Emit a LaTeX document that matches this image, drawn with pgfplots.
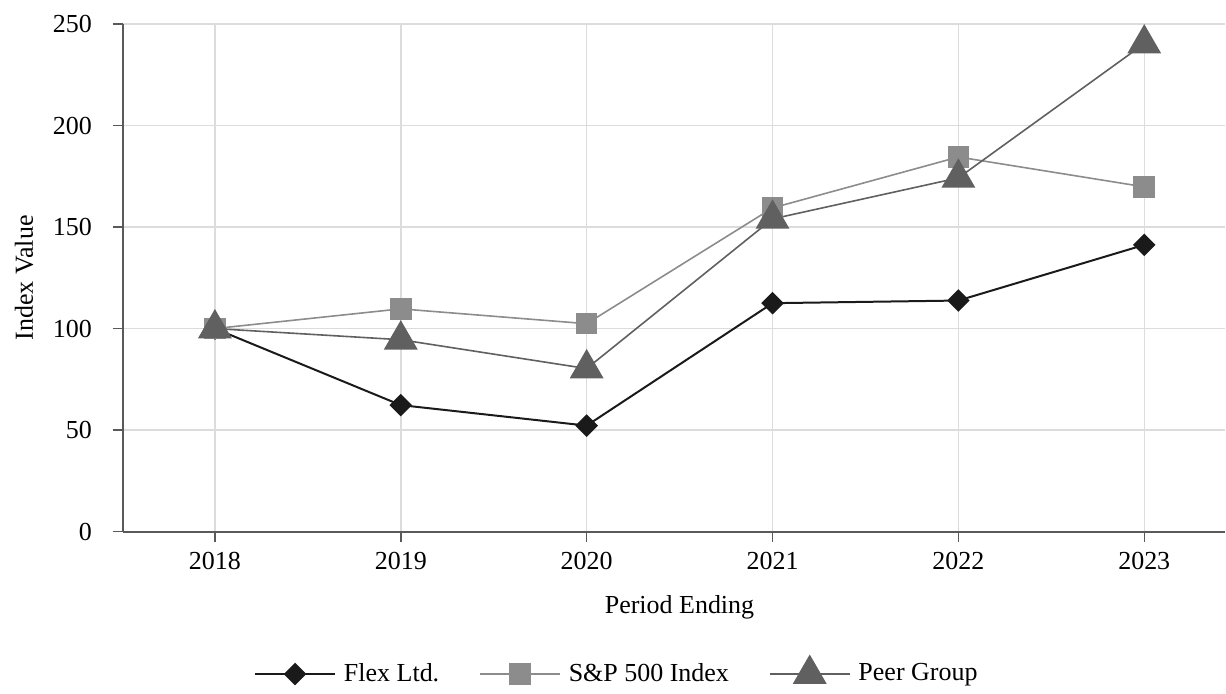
\documentclass[border=0pt]{standalone}
\usepackage{pgfplots}
\pgfplotsset{compat=1.18}
\usepackage{fontspec}
\setmainfont{Liberation Serif}
\definecolor{flexc}{HTML}{1A1A1A}
\definecolor{spc}{HTML}{8C8C8C}
\definecolor{peerc}{HTML}{606060}
\definecolor{gridc}{HTML}{DCDCDC}
\definecolor{axc}{HTML}{595959}
\begin{document}
\fontsize{13}{15.6}\selectfont
\begin{tikzpicture}
\begin{axis}[
  scale only axis,
  width=551.5pt, height=254pt,
  xmin=2017.505, xmax=2023.435,
  ymin=0, ymax=250,
  xtick={2018,2019,2020,2021,2022,2023},
  ytick={0,50,100,150,200,250},
  /pgf/number format/assume math mode=true,
  xticklabel={\pgfmathprintnumber[1000 sep={}]{\tick}},
  grid=major,
  major grid style={gridc, line width=0.75pt},
  axis x line*=bottom, axis y line*=left,
  axis line style={axc, line width=0.9pt, -},
  tick align=outside,
  major tick length=5pt,
  tick style={axc, line width=0.75pt},
  ticklabel style={font=\fontsize{13}{15.6}\selectfont},
  yticklabel style={xshift=-6pt},
  xticklabel style={yshift=-1pt},
  xlabel={Period Ending},
  ylabel={Index Value},
  every axis x label/.style={at={(axis description cs:0.505,-0.15)}, anchor=center},
  every axis y label/.style={at={(axis description cs:-0.0898,0.5)}, rotate=90, anchor=center},
  legend columns=3,
  legend style={draw=none, fill=none, at={(axis description cs:0.449,-0.2776)}, anchor=center,
    /tikz/every odd column/.append style={column sep=2pt},
    /tikz/every even column/.append style={column sep=18pt}, font=\fontsize{13}{15.6}\selectfont},
  legend image code/.code={
    \draw[#1, mark=none] (0pt,0pt) -- (40pt,0pt);
    \draw[#1, only marks] plot coordinates {(20pt,0pt)};
  },
  clip=false,
]
\addplot[flexc, line width=1pt, mark=square*, mark size=3.5pt, mark options={rotate=45, fill=flexc, draw=none}]
  coordinates {(2018,100) (2019,62.3) (2020,52.2) (2021,112.5) (2022,113.8) (2023,141.2)};
\addlegendentry{Flex Ltd.}
\addplot[spc, line width=0.8pt, mark=square*, mark size=5pt, mark options={fill=spc, draw=none}]
  coordinates {(2018,100) (2019,109.7) (2020,102.4) (2021,159.4) (2022,184.5) (2023,169.8)};
\addlegendentry{S\&P 500 Index}
\addplot[peerc, line width=0.8pt, mark=triangle*, mark size=9pt, mark options={fill=peerc, draw=none}]
  coordinates {(2018,100) (2019,94.5) (2020,80.3) (2021,154) (2022,174.2) (2023,240.3)};
\addlegendentry{Peer Group}
\end{axis}
\path (current axis.south west) ++(-61.5pt,-77pt) rectangle ++(613pt,343pt);
\end{tikzpicture}
\end{document}
